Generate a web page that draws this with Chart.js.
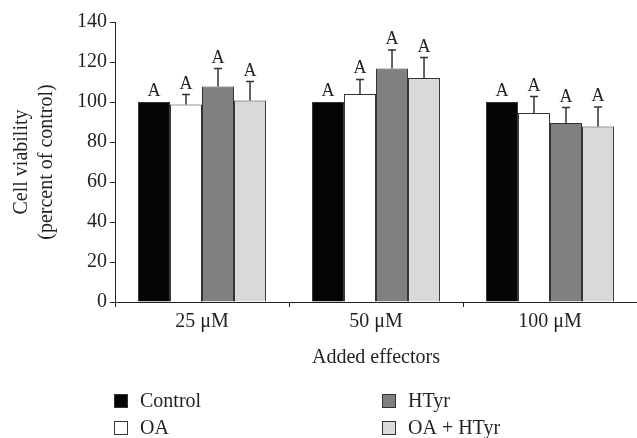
<!DOCTYPE html>
<html>
<head>
<meta charset="utf-8">
<script src="https://cdn.jsdelivr.net/npm/chart.js@4/dist/chart.umd.min.js"></script>
<style>
    html, body { margin: 0; padding: 0; background: #fff; }
    #wrap { width: 637px; height: 438px; position: relative; }
</style>
</head>
<body>
<div id="wrap"><canvas id="viability" width="637" height="438"></canvas></div>
<script>
// concentrations on the x axis
const doses = ["25 μM", "50 μM", "100 μM"];
// series names
const seriesNames = ["Control", "OA", "HTyr", "OA + HTyr"];
const seriesColours = ["#050505", "#ffffff", "#808080", "#d9d9d9"];
// mean cell viability (% of control)
const controlValues = [100, 100, 100];
const oaValues = [98.8, 104, 94.5];
const htyrValues = [107.8, 116.8, 89.5];
const oaHtyrValues = [100.8, 112, 87.8];
// error bar heights (upper half only is drawn)
const controlErr = [0, 0, 0];
const oaErr = [4.9, 7.3, 8.2];
const htyrErr = [8.9, 9.2, 7.7];
const oaHtyrErr = [9.4, 10.2, 9.7];
// significance letters above each bar
const controlLetters = ["A", "A", "A"];
const oaLetters = ["A", "A", "A"];
const htyrLetters = ["A", "A", "A"];
const oaHtyrLetters = ["A", "A", "A"];
// y axis ticks
const yMin = 0, yMax = 140, yStep = 20;

const serif = "'Liberation Serif', 'Times New Roman', serif";
const ink = "#231f20";

Chart.defaults.font.family = serif;
Chart.defaults.color = ink;

const allValues = [controlValues, oaValues, htyrValues, oaHtyrValues];
const allErr = [controlErr, oaErr, htyrErr, oaHtyrErr];
const allLetters = [controlLetters, oaLetters, htyrLetters, oaHtyrLetters];

// error bars + letters drawn on top of the bars
const errorBarPlugin = {
    id: "errorBars",
    afterDatasetsDraw(chart) {
        const ctx = chart.ctx;
        const yScale = chart.scales.y;
        ctx.save();
        chart.data.datasets.forEach((ds, i) => {
            const meta = chart.getDatasetMeta(i);
            meta.data.forEach((bar, j) => {
                const err = allErr[i][j];
                let top = bar.y;
                if (err > 0) {
                    const errY = yScale.getPixelForValue(ds.data[j] + err);
                    ctx.strokeStyle = "#333";
                    ctx.lineWidth = 1.5;
                    ctx.beginPath();
                    ctx.moveTo(bar.x, bar.y);
                    ctx.lineTo(bar.x, errY);
                    ctx.moveTo(bar.x - 4, errY);
                    ctx.lineTo(bar.x + 4, errY);
                    ctx.stroke();
                    top = errY;
                }
                ctx.fillStyle = ink;
                ctx.font = "18px " + serif;
                ctx.textAlign = "center";
                ctx.textBaseline = "alphabetic";
                ctx.fillText(allLetters[i][j], bar.x, top - 6);
            });
        });
        ctx.restore();
    },
};

// two column legend at the bottom: Control / OA on the left, HTyr / OA + HTyr on the right
const legendPlugin = {
    id: "bottomLegend",
    afterDraw(chart) {
        const ctx = chart.ctx;
        const cols = [114, 382];
        const rows = [401, 428];
        ctx.save();
        chart.data.datasets.forEach((ds, i) => {
            const x = cols[Math.floor(i / 2)];
            const y = rows[i % 2];
            ctx.fillStyle = ds.backgroundColor;
            ctx.fillRect(x, y - 7, 14, 14);
            ctx.strokeStyle = "#333";
            ctx.lineWidth = 1;
            ctx.strokeRect(x + 0.5, y - 6.5, 13, 13);
            ctx.fillStyle = ink;
            ctx.font = "20px " + serif;
            ctx.textAlign = "left";
            ctx.textBaseline = "middle";
            ctx.fillText(ds.label, x + 26, y + 1);
        });
        ctx.restore();
    },
};

new Chart(document.getElementById("viability"), {
    type: "bar",
    data: {
        labels: doses,
        datasets: seriesNames.map((name, i) => ({
            label: name,
            data: allValues[i],
            backgroundColor: seriesColours[i],
            borderColor: "#333",
            borderWidth: 1,
            barPercentage: 1,
            categoryPercentage: 0.736,
        })),
    },
    options: {
        responsive: false,
        animation: false,
        layout: {
            padding: { top: 22, right: 0, bottom: 66, left: 0 },
        },
        scales: {
            x: {
                grid: {
                    drawOnChartArea: false,
                    offset: true,
                    tickLength: 5,
                    tickColor: ink,
                },
                border: { color: ink, width: 1 },
                ticks: {
                    font: { size: 20 },
                    color: ink,
                    padding: 3,
                },
                title: {
                    display: true,
                    text: "Added effectors",
                    font: { size: 20 },
                    color: ink,
                    padding: { top: 0, bottom: 2 },
                },
                afterFit(scale) {
                    scale.height = 70;
                },
            },
            y: {
                min: yMin,
                max: yMax,
                grid: {
                    drawOnChartArea: false,
                    tickLength: 5,
                    tickColor: ink,
                },
                border: { color: ink, width: 1 },
                ticks: {
                    stepSize: yStep,
                    font: { size: 20 },
                    color: ink,
                    padding: 3,
                },
                title: {
                    display: true,
                    text: ["Cell viability", "(percent of control)"],
                    font: { size: 20, lineHeight: 1.25 },
                    color: ink,
                    padding: { top: 9, bottom: 0 },
                },
                afterFit(scale) {
                    scale.width = 115;
                },
            },
        },
        plugins: {
            legend: { display: false },
            tooltip: { enabled: false },
        },
    },
    plugins: [errorBarPlugin, legendPlugin],
});
</script>
</body>
</html>
